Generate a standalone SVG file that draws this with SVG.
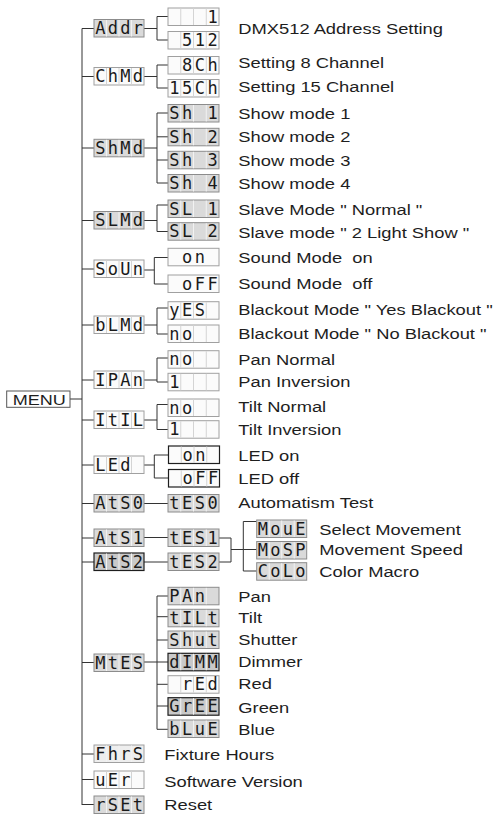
<svg xmlns="http://www.w3.org/2000/svg" width="498" height="815" viewBox="0 0 498 815">
<style>
.c{fill:none;stroke:#333;stroke-width:1}
.bg{fill:#dadada;stroke:#8c8c8c;stroke-width:1}
.bw{fill:#fbfbfb;stroke:#a0a0a0;stroke-width:1}
.bd{fill:#c9c9c9;stroke:#1e1e1e;stroke-width:1.2}
.bk{fill:#fbfbfb;stroke:#1e1e1e;stroke-width:1.2}
.dv{stroke:#f2f2f2;stroke-width:1}
.dw{stroke:#d4d4d4;stroke-width:1}
.s{font-family:"DejaVu Sans Mono","Liberation Mono",monospace;font-size:17px;fill:#1a1a1a;text-anchor:middle}
.l{font-family:"Liberation Sans",Arial,sans-serif;font-size:14px;fill:#1e1e1e;white-space:pre}
</style>
<rect width="498" height="815" fill="#fff"/>
<g id="connectors" class="c">
<path d="M82 28.5V805M70 399H82"/>
<path d="M82 28.5H94M82 76.5H94M82 148H94M82 220.5H94M82 269H94M82 325H94M82 380H94M82 420H94M82 465H94M82 503.5H94M82 538H94M82 562H94M82 662.5H94M82 754H94M82 779.5H94M82 804.5H94"/>
<path d="M144 28.5H157M168 16.5H157V40H168"/>
<path d="M144 76.5H157M168 65H157V88H168"/>
<path d="M144 148H157M168 113H157V183H168M157 136.8H168M157 160H168"/>
<path d="M144 220.5H157M168 205H157V231.5H168"/>
<path d="M144 270H154.3M168 257.5H154.3V284H168"/>
<path d="M144 325H157M168 308H157V334H168"/>
<path d="M144 380H157M168 358H157V382H168"/>
<path d="M144 420H157M168 404.5H157V429.5H168"/>
<path d="M144 465H154.3M168 455H154.3V478H168"/>
<path d="M144 503.5H168M144 537.5H168M144 562H168"/>
<path d="M219 538H231V562H219M231 549.5H243.3M256.7 521.5H243.3V571H256.7M243.3 549.5H256.7"/>
<path d="M144 662H157M168 596H157V729.3H168M157 616.7H168M157 640H168M157 662H168M157 684.3H168M157 706H168"/>
</g>
<g id="menu"><rect x="6.7" y="391" width="63.3" height="16.3" fill="#fff" stroke="#555" stroke-width="1"/><text class="l" transform="translate(12.7 405) scale(1.29 1)">MENU</text></g>
<g id="n-addr"><rect class="bg" x="94" y="19.5" width="50" height="17.5"/><path class="dv" d="M106.5 20v16.5M119 20v16.5M131.5 20v16.5"/><text class="s" x="100.25 112.75 125.25 137.75" y="34">Addr</text></g>
<g id="n-chmd"><rect class="bw" x="94" y="67.5" width="50" height="17.5"/><path class="dw" d="M106.5 68v16.5M119 68v16.5M131.5 68v16.5"/><text class="s" x="100.25 112.75 125.25 137.75" y="82">ChMd</text></g>
<g id="n-shmd"><rect class="bg" x="94" y="139.3" width="50" height="17.5"/><path class="dv" d="M106.5 139.8v16.5M119 139.8v16.5M131.5 139.8v16.5"/><text class="s" x="100.25 112.75 125.25 137.75" y="153.8">ShMd</text></g>
<g id="n-slmd"><rect class="bg" x="94" y="211.5" width="50" height="17.5"/><path class="dv" d="M106.5 212v16.5M119 212v16.5M131.5 212v16.5"/><text class="s" x="100.25 112.75 125.25 137.75" y="226">SLMd</text></g>
<g id="n-soun"><rect class="bw" x="94" y="260" width="50" height="17.5"/><path class="dw" d="M106.5 260.5v16.5M119 260.5v16.5M131.5 260.5v16.5"/><text class="s" x="100.25 112.75 125.25 137.75" y="274.5">SoUn</text></g>
<g id="n-blmd"><rect class="bw" x="94" y="316" width="50" height="17.5"/><path class="dw" d="M106.5 316.5v16.5M119 316.5v16.5M131.5 316.5v16.5"/><text class="s" x="100.25 112.75 125.25 137.75" y="330.5">bLMd</text></g>
<g id="n-ipan"><rect class="bw" x="94" y="371" width="50" height="17.5"/><path class="dw" d="M106.5 371.5v16.5M119 371.5v16.5M131.5 371.5v16.5"/><text class="s" x="100.25 112.75 125.25 137.75" y="385.5">IPAn</text></g>
<g id="n-itil"><rect class="bw" x="94" y="411" width="50" height="17.5"/><path class="dw" d="M106.5 411.5v16.5M119 411.5v16.5M131.5 411.5v16.5"/><text class="s" x="100.25 112.75 125.25 137.75" y="425.5">ItIL</text></g>
<g id="n-led"><rect class="bw" x="94" y="456" width="50" height="17.5"/><path class="dw" d="M106.5 456.5v16.5M119 456.5v16.5M131.5 456.5v16.5"/><text class="s" x="100.25 112.75 125.25" y="470.5">LEd</text></g>
<g id="n-ats0"><rect class="bg" x="94" y="494.5" width="50" height="17.5"/><path class="dv" d="M106.5 495v16.5M119 495v16.5M131.5 495v16.5"/><text class="s" x="100.25 112.75 125.25 137.75" y="509">AtS0</text></g>
<g id="n-ats1"><rect class="bg" x="94" y="529" width="50" height="17.5"/><path class="dv" d="M106.5 529.5v16.5M119 529.5v16.5M131.5 529.5v16.5"/><text class="s" x="100.25 112.75 125.25 137.75" y="543.5">AtS1</text></g>
<g id="n-ats2"><rect class="bd" x="94" y="553" width="50" height="17.5"/><path class="dv" d="M106.5 553.5v16.5M119 553.5v16.5M131.5 553.5v16.5"/><text class="s" x="100.25 112.75 125.25 137.75" y="567.5">AtS2</text></g>
<g id="n-mtes"><rect class="bg" x="94" y="654" width="50" height="17.5"/><path class="dv" d="M106.5 654.5v16.5M119 654.5v16.5M131.5 654.5v16.5"/><text class="s" x="100.25 112.75 125.25 137.75" y="668.5">MtES</text></g>
<g id="n-fhrs"><rect class="bw" x="94" y="745" width="50" height="17.5" style="fill:#eeeeee"/><path class="dv" d="M106.5 745.5v16.5M119 745.5v16.5M131.5 745.5v16.5"/><text class="s" x="100.25 112.75 125.25 137.75" y="759.5">FhrS</text></g>
<g id="n-uer"><rect class="bw" x="94" y="771" width="50" height="17.5"/><path class="dw" d="M106.5 771.5v16.5M119 771.5v16.5M131.5 771.5v16.5"/><text class="s" x="100.25 112.75 125.25" y="785.5">uEr</text></g>
<g id="n-rset"><rect class="bg" x="94" y="796" width="50" height="17.5"/><path class="dv" d="M106.5 796.5v16.5M119 796.5v16.5M131.5 796.5v16.5"/><text class="s" x="100.25 112.75 125.25 137.75" y="810.5">rSEt</text></g>
<g id="s-addr1"><rect class="bw" x="168" y="8" width="51" height="17.5"/><path class="dw" d="M180.75 8.5v16.5M193.5 8.5v16.5M206.25 8.5v16.5"/><text class="s" x="212.6" y="22.5">1</text></g>
<g id="s-addr512"><rect class="bw" x="168" y="31.5" width="51" height="17.5"/><path class="dw" d="M180.75 32v16.5M193.5 32v16.5M206.25 32v16.5"/><text class="s" x="187.1 199.9 212.6" y="46">512</text></g>
<g id="s-8ch"><rect class="bw" x="168" y="56.5" width="51" height="17.5"/><path class="dw" d="M180.75 57v16.5M193.5 57v16.5M206.25 57v16.5"/><text class="s" x="187.1 199.9 212.6" y="71">8Ch</text></g>
<g id="s-15ch"><rect class="bw" x="168" y="79.5" width="51" height="17.5"/><path class="dw" d="M180.75 80v16.5M193.5 80v16.5M206.25 80v16.5"/><text class="s" x="174.4 187.1 199.9 212.6" y="94">15Ch</text></g>
<g id="s-sh1"><rect class="bg" x="168" y="104.5" width="51" height="17.5"/><path class="dv" d="M180.75 105v16.5M193.5 105v16.5M206.25 105v16.5"/><text class="s" x="174.4 187.1 199.9 212.6" y="119">Sh 1</text></g>
<g id="s-sh2"><rect class="bg" x="168" y="128.3" width="51" height="17.5"/><path class="dv" d="M180.75 128.8v16.5M193.5 128.8v16.5M206.25 128.8v16.5"/><text class="s" x="174.4 187.1 199.9 212.6" y="142.8">Sh 2</text></g>
<g id="s-sh3"><rect class="bg" x="168" y="151.3" width="51" height="17.5"/><path class="dv" d="M180.75 151.8v16.5M193.5 151.8v16.5M206.25 151.8v16.5"/><text class="s" x="174.4 187.1 199.9 212.6" y="165.8">Sh 3</text></g>
<g id="s-sh4"><rect class="bg" x="168" y="174.5" width="51" height="17.5"/><path class="dv" d="M180.75 175v16.5M193.5 175v16.5M206.25 175v16.5"/><text class="s" x="174.4 187.1 199.9 212.6" y="189">Sh 4</text></g>
<g id="s-sl1"><rect class="bg" x="168" y="200" width="51" height="17.5"/><path class="dv" d="M180.75 200.5v16.5M193.5 200.5v16.5M206.25 200.5v16.5"/><text class="s" x="174.4 187.1 199.9 212.6" y="214.5">SL 1</text></g>
<g id="s-sl2"><rect class="bg" x="168" y="222.7" width="51" height="17.5"/><path class="dv" d="M180.75 223.2v16.5M193.5 223.2v16.5M206.25 223.2v16.5"/><text class="s" x="174.4 187.1 199.9 212.6" y="237.2">SL 2</text></g>
<g id="s-son"><rect class="bw" x="168" y="248.3" width="51" height="17.5"/><text class="s" x="187.1 199.9" y="262.8">on</text></g>
<g id="s-soff"><rect class="bw" x="168" y="275" width="51" height="17.5"/><text class="s" x="187.1 199.9 212.6" y="289.5">oFF</text></g>
<g id="s-yes"><rect class="bw" x="168" y="301.7" width="51" height="17.5"/><path class="dw" d="M180.75 302.2v16.5M193.5 302.2v16.5M206.25 302.2v16.5"/><text class="s" x="174.4 187.1 199.9" y="316.2">yES</text></g>
<g id="s-bno"><rect class="bw" x="168" y="325" width="51" height="17.5"/><path class="dw" d="M180.75 325.5v16.5M193.5 325.5v16.5M206.25 325.5v16.5"/><text class="s" x="174.4 187.1" y="339.5">no</text></g>
<g id="s-pno"><rect class="bw" x="168" y="350.7" width="51" height="17.5"/><path class="dw" d="M180.75 351.2v16.5M193.5 351.2v16.5M206.25 351.2v16.5"/><text class="s" x="174.4 187.1" y="365.2">no</text></g>
<g id="s-p1"><rect class="bw" x="168" y="373.3" width="51" height="17.5"/><path class="dw" d="M180.75 373.8v16.5M193.5 373.8v16.5M206.25 373.8v16.5"/><text class="s" x="174.4" y="387.8">1</text></g>
<g id="s-tno"><rect class="bw" x="168" y="399" width="51" height="17.5"/><path class="dw" d="M180.75 399.5v16.5M193.5 399.5v16.5M206.25 399.5v16.5"/><text class="s" x="174.4 187.1" y="413.5">no</text></g>
<g id="s-t1"><rect class="bw" x="168" y="420.7" width="51" height="17.5"/><path class="dw" d="M180.75 421.2v16.5M193.5 421.2v16.5M206.25 421.2v16.5"/><text class="s" x="174.4" y="435.2">1</text></g>
<g id="s-lon"><rect class="bk" x="168.5" y="446" width="51" height="17.5"/><path class="dw" d="M181.25 446.5v16.5M194 446.5v16.5M206.75 446.5v16.5"/><text class="s" x="187.6 200.4" y="460.5">on</text></g>
<g id="s-loff"><rect class="bk" x="168.5" y="469.5" width="51" height="17.5"/><path class="dw" d="M181.25 470v16.5M194 470v16.5M206.75 470v16.5"/><text class="s" x="187.6 200.4 213.1" y="484">oFF</text></g>
<g id="s-tes0"><rect class="bg" x="168" y="494.5" width="51" height="17.5"/><path class="dv" d="M180.75 495v16.5M193.5 495v16.5M206.25 495v16.5"/><text class="s" x="174.4 187.1 199.9 212.6" y="509">tES0</text></g>
<g id="s-tes1"><rect class="bg" x="168" y="529" width="51" height="17.5"/><path class="dv" d="M180.75 529.5v16.5M193.5 529.5v16.5M206.25 529.5v16.5"/><text class="s" x="174.4 187.1 199.9 212.6" y="543.5">tES1</text></g>
<g id="s-tes2"><rect class="bg" x="168" y="553" width="51" height="17.5"/><path class="dv" d="M180.75 553.5v16.5M193.5 553.5v16.5M206.25 553.5v16.5"/><text class="s" x="174.4 187.1 199.9 212.6" y="567.5">tES2</text></g>
<g id="s-moue"><rect class="bg" x="256.7" y="520" width="50" height="17.5"/><path class="dv" d="M269.2 520.5v16.5M281.7 520.5v16.5M294.2 520.5v16.5"/><text class="s" x="262.95 275.45 287.95 300.45" y="534.5">MouE</text></g>
<g id="s-mosp"><rect class="bg" x="256.7" y="541.5" width="50" height="17.5"/><path class="dv" d="M269.2 542v16.5M281.7 542v16.5M294.2 542v16.5"/><text class="s" x="262.95 275.45 287.95 300.45" y="556">MoSP</text></g>
<g id="s-colo"><rect class="bg" x="256.7" y="562.7" width="50" height="17.5"/><path class="dv" d="M269.2 563.2v16.5M281.7 563.2v16.5M294.2 563.2v16.5"/><text class="s" x="262.95 275.45 287.95 300.45" y="577.2">CoLo</text></g>
<g id="s-pan"><rect class="bg" x="168" y="587.3" width="51" height="17.5"/><path class="dv" d="M180.75 587.8v16.5M193.5 587.8v16.5M206.25 587.8v16.5"/><text class="s" x="174.4 187.1 199.9" y="601.8">PAn</text></g>
<g id="s-tilt"><rect class="bg" x="168" y="609.3" width="51" height="17.5"/><path class="dv" d="M180.75 609.8v16.5M193.5 609.8v16.5M206.25 609.8v16.5"/><text class="s" x="174.4 187.1 199.9 212.6" y="623.8">tILt</text></g>
<g id="s-shut"><rect class="bg" x="168" y="631" width="51" height="17.5"/><path class="dv" d="M180.75 631.5v16.5M193.5 631.5v16.5M206.25 631.5v16.5"/><text class="s" x="174.4 187.1 199.9 212.6" y="645.5">Shut</text></g>
<g id="s-dimm"><rect class="bd" x="168" y="653.3" width="51" height="17.5"/><path class="dv" d="M180.75 653.8v16.5M193.5 653.8v16.5M206.25 653.8v16.5"/><text class="s" x="174.4 187.1 199.9 212.6" y="667.8">dIMM</text></g>
<g id="s-red"><rect class="bw" x="168" y="675.7" width="51" height="17.5"/><path class="dw" d="M180.75 676.2v16.5M193.5 676.2v16.5M206.25 676.2v16.5"/><text class="s" x="187.1 199.9 212.6" y="690.2">rEd</text></g>
<g id="s-gree"><rect class="bd" x="168" y="697.7" width="51" height="17.5"/><path class="dv" d="M180.75 698.2v16.5M193.5 698.2v16.5M206.25 698.2v16.5"/><text class="s" x="174.4 187.1 199.9 212.6" y="712.2">GrEE</text></g>
<g id="s-blue"><rect class="bg" x="168" y="720" width="51" height="17.5"/><path class="dv" d="M180.75 720.5v16.5M193.5 720.5v16.5M206.25 720.5v16.5"/><text class="s" x="174.4 187.1 199.9 212.6" y="734.5">bLuE</text></g>
<g id="labels">
<text class="l" transform="translate(238.3 34.3) scale(1.31 1)">DMX512 Address Setting</text>
<text class="l" transform="translate(238.3 68.3) scale(1.31 1)">Setting 8 Channel</text>
<text class="l" transform="translate(238.3 92.3) scale(1.31 1)">Setting 15 Channel</text>
<text class="l" transform="translate(238.3 119) scale(1.31 1)">Show mode 1</text>
<text class="l" transform="translate(238.3 142.3) scale(1.31 1)">Show mode 2</text>
<text class="l" transform="translate(238.3 165.7) scale(1.31 1)">Show mode 3</text>
<text class="l" transform="translate(238.3 189) scale(1.31 1)">Show mode 4</text>
<text class="l" transform="translate(238.3 215) scale(1.31 1)">Slave Mode " Normal "</text>
<text class="l" transform="translate(238.3 238.3) scale(1.31 1)">Slave mode " 2 Light Show "</text>
<text class="l" transform="translate(238.3 262.7) scale(1.31 1)">Sound Mode  on</text>
<text class="l" transform="translate(238.3 289) scale(1.31 1)">Sound Mode  off</text>
<text class="l" transform="translate(238.3 315) scale(1.31 1)">Blackout Mode " Yes Blackout "</text>
<text class="l" transform="translate(238.3 339) scale(1.31 1)">Blackout Mode " No Blackout "</text>
<text class="l" transform="translate(238.3 365) scale(1.31 1)">Pan Normal</text>
<text class="l" transform="translate(238.3 387.3) scale(1.31 1)">Pan Inversion</text>
<text class="l" transform="translate(238.3 411.7) scale(1.31 1)">Tilt Normal</text>
<text class="l" transform="translate(238.3 435) scale(1.31 1)">Tilt Inversion</text>
<text class="l" transform="translate(238.3 460.7) scale(1.31 1)">LED on</text>
<text class="l" transform="translate(238.3 484) scale(1.31 1)">LED off</text>
<text class="l" transform="translate(238.3 507.7) scale(1.31 1)">Automatism Test</text>
<text class="l" transform="translate(319.3 535) scale(1.31 1)">Select Movement</text>
<text class="l" transform="translate(319.3 555) scale(1.31 1)">Movement Speed</text>
<text class="l" transform="translate(319.3 576.7) scale(1.31 1)">Color Macro</text>
<text class="l" transform="translate(238.3 601.7) scale(1.31 1)">Pan</text>
<text class="l" transform="translate(238.3 623.3) scale(1.31 1)">Tilt</text>
<text class="l" transform="translate(238.3 645) scale(1.31 1)">Shutter</text>
<text class="l" transform="translate(238.3 666.7) scale(1.31 1)">Dimmer</text>
<text class="l" transform="translate(238.3 689.3) scale(1.31 1)">Red</text>
<text class="l" transform="translate(238.3 712.7) scale(1.31 1)">Green</text>
<text class="l" transform="translate(238.3 735) scale(1.31 1)">Blue</text>
<text class="l" transform="translate(164.3 760) scale(1.31 1)">Fixture Hours</text>
<text class="l" transform="translate(164.3 786.7) scale(1.31 1)">Software Version</text>
<text class="l" transform="translate(164.3 810) scale(1.31 1)">Reset</text>
</g>
</svg>
